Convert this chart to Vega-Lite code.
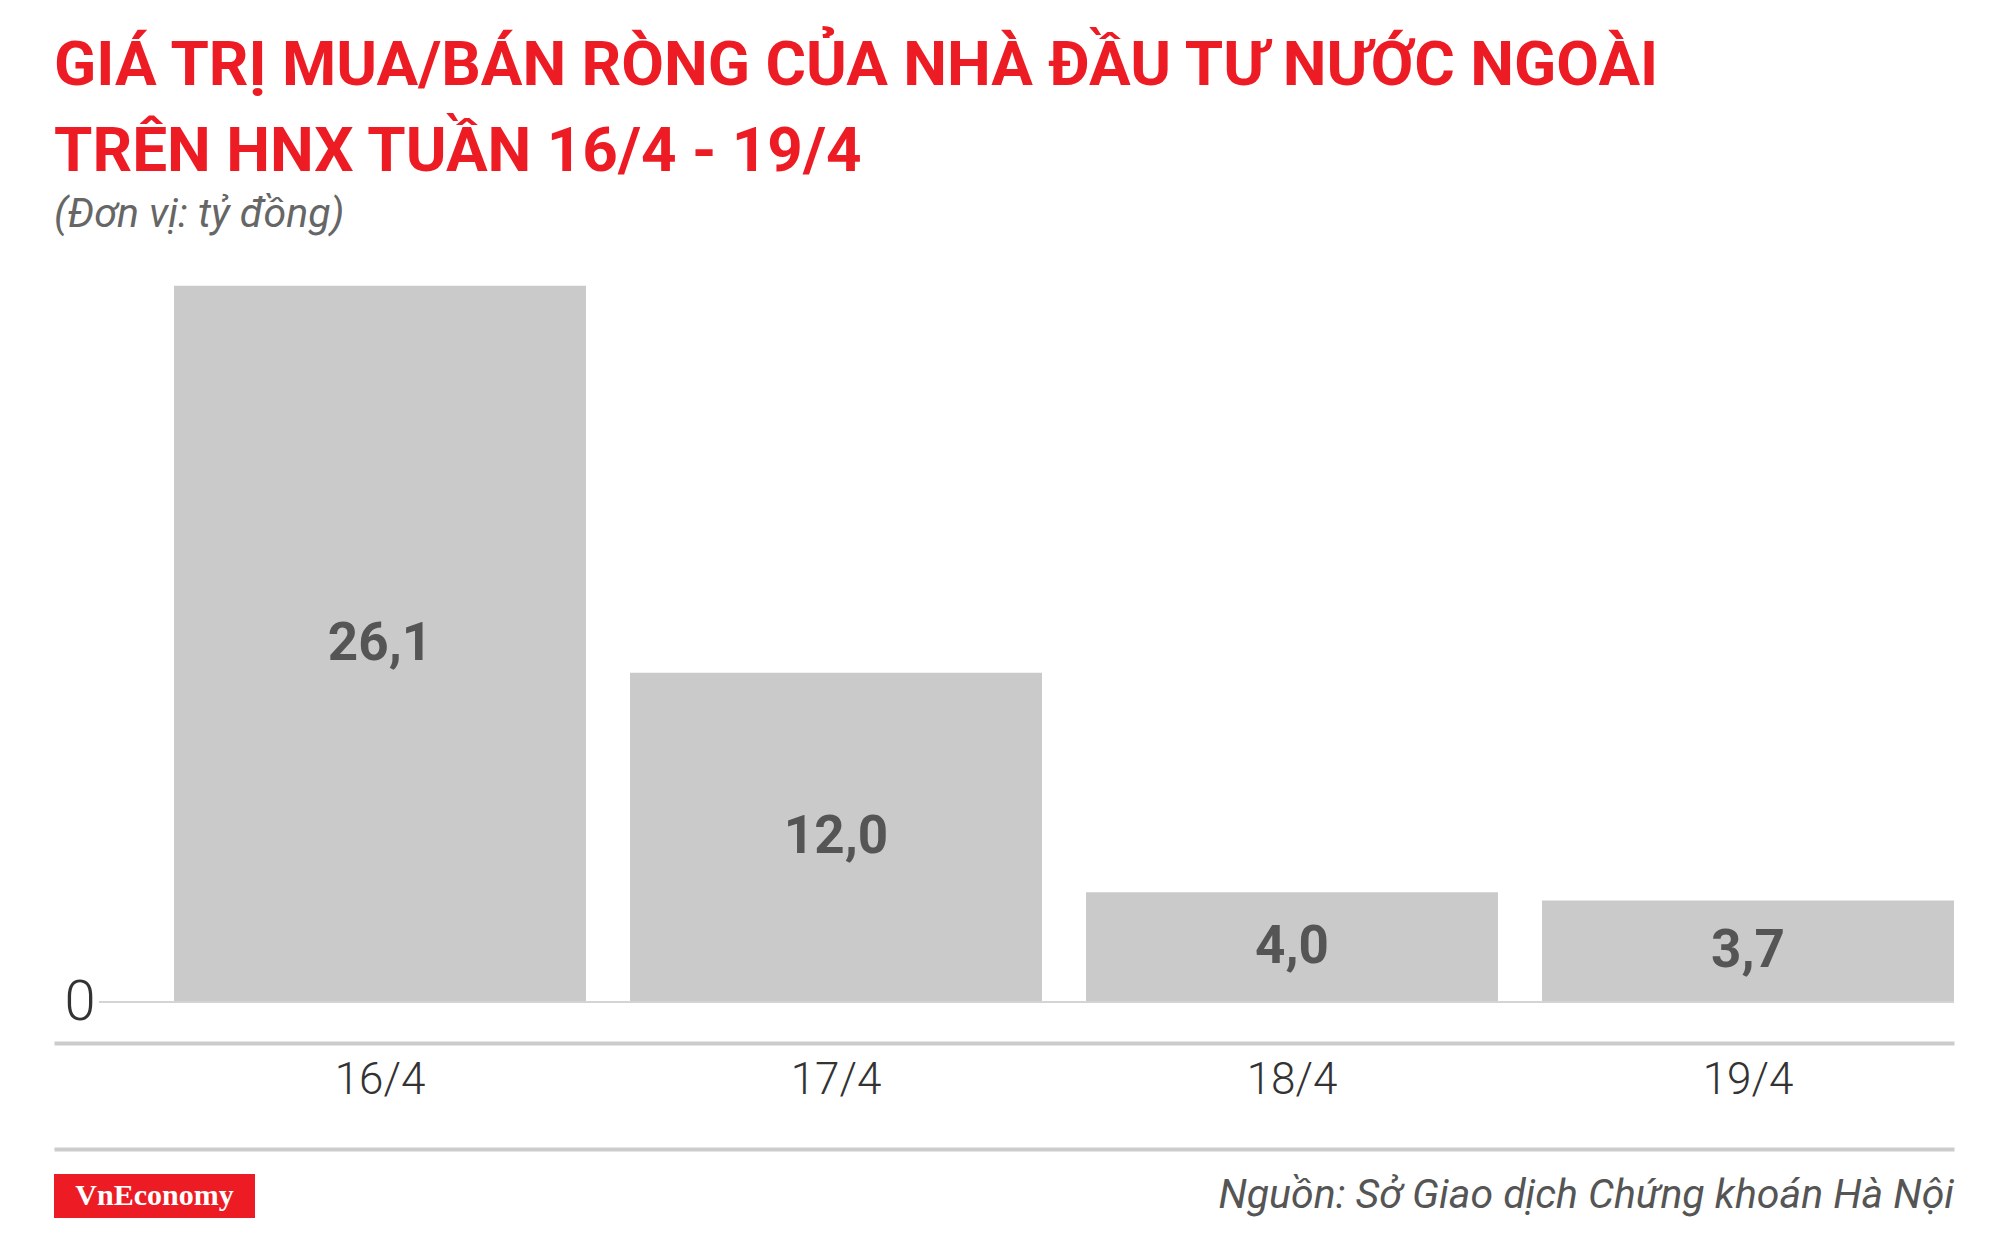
{
  "$schema": "https://vega.github.io/schema/vega-lite/v6.json",
  "background": "white",
  "padding": {"left": 54, "top": 35, "right": 46, "bottom": 0},
  "config": {
    "view": {"stroke": null},
    "locale": {"number": {"decimal": ",", "thousands": ".", "grouping": [3], "currency": ["", " ₫"]}}
  },
  "title": {
    "text": ["GIÁ TRỊ MUA/BÁN RÒNG CỦA NHÀ ĐẦU TƯ NƯỚC NGOÀI", "TRÊN HNX TUẦN 16/4 - 19/4"],
    "subtitle": "(Đơn vị: tỷ đồng)",
    "anchor": "start",
    "font": "Roboto",
    "fontWeight": "bold",
    "fontSize": 62,
    "lineHeight": 86,
    "color": "#ED1C24",
    "subtitleFont": "Roboto",
    "subtitleFontStyle": "italic",
    "subtitleFontSize": 41,
    "subtitleColor": "#666666",
    "subtitlePadding": 11,
    "offset": 36
  },
  "spacing": 25,
  "vconcat": [
    {
      "width": 1900,
      "height": 730,
      "data": {"values": [
        {"ngay": "16/4", "v": 26.1},
        {"ngay": "17/4", "v": 12.0},
        {"ngay": "18/4", "v": 4.0},
        {"ngay": "19/4", "v": 3.7}
      ]},
      "layer": [
        {
          "mark": {"type": "bar", "color": "#cbcacb"},
          "encoding": {
            "x": {"field": "ngay", "type": "nominal", "sort": null,
              "scale": {"domain": ["16/4", "17/4", "18/4", "19/4"], "paddingInner": 0.0965, "paddingOuter": 0.1316, "align": 1},
              "axis": {"orient": "bottom", "offset": 41, "title": null, "ticks": false,
                "domainColor": "#cccccc", "domainWidth": 4, "labelFont": "Roboto",
                "labelFontWeight": 300, "labelFontSize": 44, "labelColor": "#333333",
                "labelPadding": 15, "labelAngle": 0}},
            "y": {"field": "v", "type": "quantitative", "scale": {"domain": [0, 26.6], "nice": false},
              "axis": {"orient": "left", "values": [0], "title": null, "domain": false, "ticks": false, "grid": false,
                "labelFont": "Roboto", "labelFontWeight": 300, "labelFontSize": 56,
                "labelColor": "#333333", "labelAlign": "left", "labelPadding": -10}}
          }
        },
        {
          "mark": {"type": "rule", "color": "#d4d4d4", "strokeWidth": 2},
          "encoding": {
            "x": {"datum": "16/4", "type": "nominal", "bandPosition": -0.1816, "axis": null},
            "x2": {"datum": "19/4", "bandPosition": 1},
            "y": {"datum": 0, "type": "quantitative", "scale": {"domain": [0, 26.6], "nice": false}, "axis": null}
          }
        },
        {
          "mark": {"type": "text", "font": "Roboto", "fontWeight": "bold",
            "fontSize": 53, "color": "#555555", "baseline": "middle"},
          "encoding": {
            "x": {"field": "ngay", "type": "nominal", "sort": null,
              "axis": {"orient": "bottom", "offset": 147, "title": null, "ticks": false,
                "labels": false, "domainColor": "#cccccc", "domainWidth": 4}},
            "y": {"field": "v", "type": "quantitative", "scale": {"domain": [0, 53.2], "nice": false}, "axis": null},
            "text": {"field": "v", "type": "quantitative", "format": ".1f"}
          }
        }
      ],
      "resolve": {"axis": {"x": "independent", "y": "independent"}, "scale": {"y": "independent"}}
    },
    {
      "spacing": 0,
      "hconcat": [
        {
          "width": 201,
          "height": 44,
          "view": {"fill": "#ED1C24", "stroke": null},
          "data": {"values": [{"t": "VnEconomy"}]},
          "mark": {"type": "text", "font": "'Liberation Serif', 'DejaVu Serif'", "fontWeight": "bold",
            "fontSize": 30, "color": "white", "baseline": "middle"},
          "encoding": {"text": {"field": "t"}}
        },
        {
          "width": 1699,
          "height": 44,
          "data": {"values": [{"t": "Nguồn: Sở Giao dịch Chứng khoán Hà Nội"}]},
          "mark": {"type": "text", "font": "Roboto", "fontStyle": "italic", "fontSize": 41,
            "color": "#555555", "align": "right", "baseline": "middle"},
          "encoding": {
            "text": {"field": "t"},
            "x": {"datum": 1, "type": "quantitative", "scale": {"domain": [0, 1]}, "axis": null}
          }
        }
      ]
    }
  ]
}
